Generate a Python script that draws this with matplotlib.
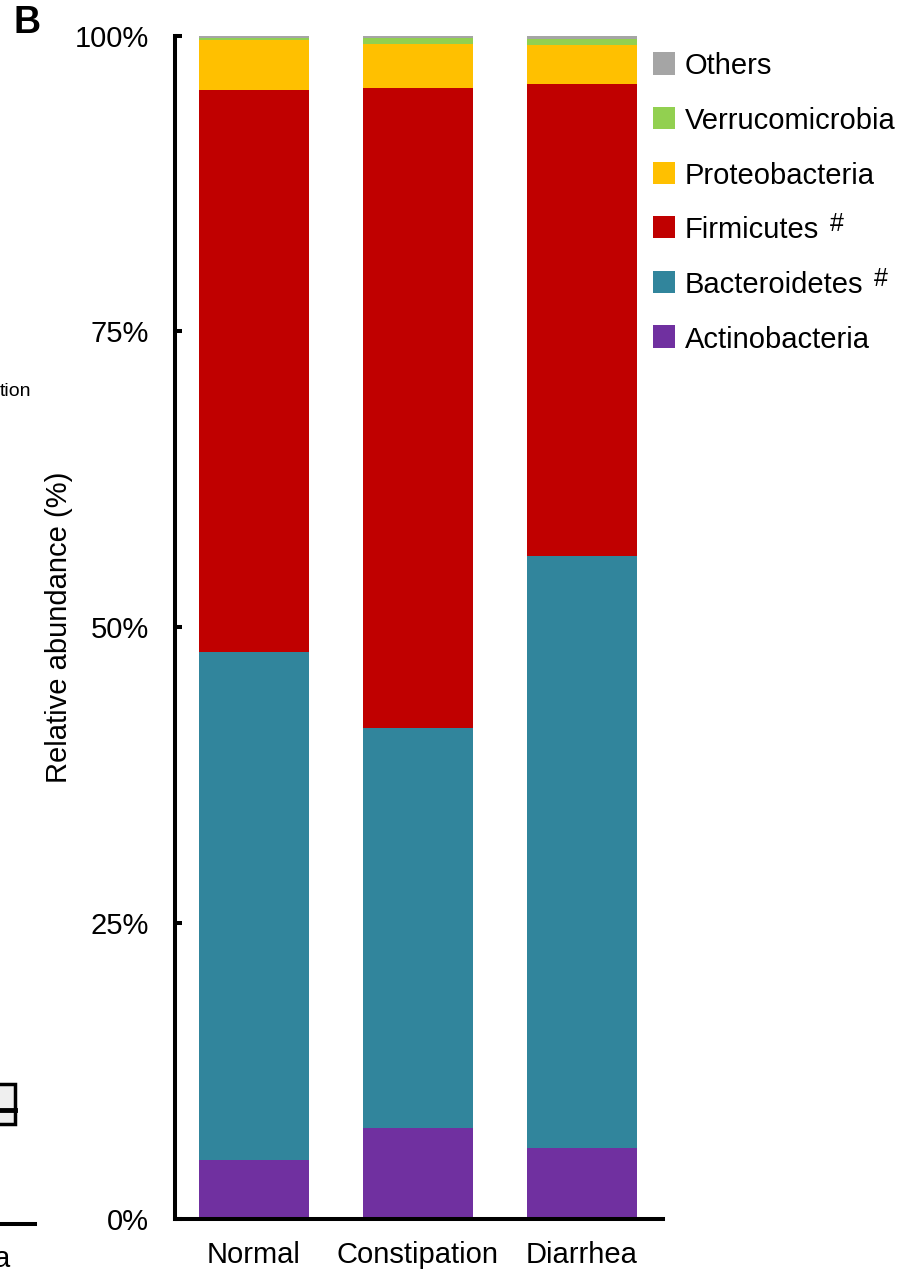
import numpy as np
import matplotlib
matplotlib.use('Agg')
import matplotlib.pyplot as plt
from matplotlib.patches import Rectangle
from matplotlib.lines import Line2D

plt.rcParams['font.family'] = ['Liberation Sans', 'DejaVu Sans']

### Data: relative abundance (%) of each phylum per group
groups = ['Normal', 'Constipation', 'Diarrhea']
actinobacteria = [5.0, 7.7, 6.0]
bacteroidetes = [42.9, 33.8, 50.0]
firmicutes = [47.5, 54.1, 39.9]
proteobacteria = [4.2, 3.7, 3.3]
verrucomicrobia = [0.2, 0.5, 0.5]
others = [0.2, 0.2, 0.3]

phyla = ['Actinobacteria', 'Bacteroidetes', 'Firmicutes',
         'Proteobacteria', 'Verrucomicrobia', 'Others']
significant = [False, True, True, False, False, False]   # marked with '#'
colors = ['#7030A0', '#31859C', '#C00000', '#FFC000', '#92D050', '#A5A5A5']
yticks = [0, 25, 50, 75, 100]
yticklabels = ['0%', '25%', '50%', '75%', '100%']

W, H = 905, 1269
FS = 21

### pixel -> figure fraction helpers
def fx(x):
    return x / W

def fy(y):
    return 1 - y / H


fig = plt.figure(figsize=(W / 100, H / 100), dpi=100)
ax = fig.add_axes([fx(175), fy(1219), (663 - 175) / W, (1219 - 35.5) / H])

### Stacked bars
x = np.arange(len(groups))
values = np.array([actinobacteria, bacteroidetes, firmicutes,
                   proteobacteria, verrucomicrobia, others])
bottom = np.zeros(len(groups))
for vals, c in zip(values, colors):
    ax.bar(x, vals, width=0.671, bottom=bottom, color=c, linewidth=0)
    bottom += vals

### Axes styling
ax.set_xlim(-0.4817, 2.494)
ax.set_ylim(0, 100)
for s in ['top', 'right']:
    ax.spines[s].set_visible(False)
for s in ['left', 'bottom']:
    ax.spines[s].set_linewidth(2.9)
ax.set_yticks(yticks)
ax.set_yticklabels(yticklabels)
ax.set_xticks(x)
ax.set_xticklabels(groups)
ax.tick_params(axis='y', direction='in', length=5, width=2.9, labelsize=FS, pad=19)
ax.tick_params(axis='x', length=0, labelsize=FS, pad=16)
ax.set_ylabel('Relative abundance (%)', fontsize=FS)
ax.yaxis.set_label_coords((73 - 175) / 488, 0.5)

### Legend (top entry = top of the stack)
y0, step = 63.5, 54.6
for i, (lab, c, sig) in enumerate(zip(phyla[::-1], colors[::-1], significant[::-1])):
    yc = y0 + i * step
    fig.add_artist(Rectangle((fx(653), fy(yc + 11)), 22 / W, 22 / H,
                             transform=fig.transFigure, color=c, linewidth=0))
    t = fig.text(fx(685), fy(yc + 11), lab, fontsize=FS, ha='left', va='baseline')
    if sig:
        fig.add_artist(plt.Annotation('#', xy=(1, 0), xycoords=t,
                                      xytext=(7.5, 9.5), textcoords='offset points',
                                      fontsize=18, ha='left', va='baseline'))

### Panel letter
fig.text(fx(14), fy(33), 'B', fontsize=27, fontweight='bold', ha='left', va='baseline')

### Neighbouring panel remnants at the left edge
fig.text(fx(31), fy(396), 'tion', fontsize=14, ha='right', va='baseline')
fig.text(fx(10), fy(1267), 'a', fontsize=FS, ha='right', va='baseline')
fig.add_artist(Line2D([fx(0), fx(35)], [fy(1224), fy(1224)],
                      transform=fig.transFigure, color='black', linewidth=2.9))
fig.add_artist(Rectangle((fx(-10), fy(1123.5)), 25 / W, 40 / H,
                         transform=fig.transFigure, facecolor='#EFEFEF',
                         edgecolor='black', linewidth=2.5))
fig.add_artist(Line2D([fx(0), fx(15)], [fy(1109.5), fy(1109.5)],
                      transform=fig.transFigure, color='black', linewidth=3.5))

fig.savefig('out.png', dpi=100)
